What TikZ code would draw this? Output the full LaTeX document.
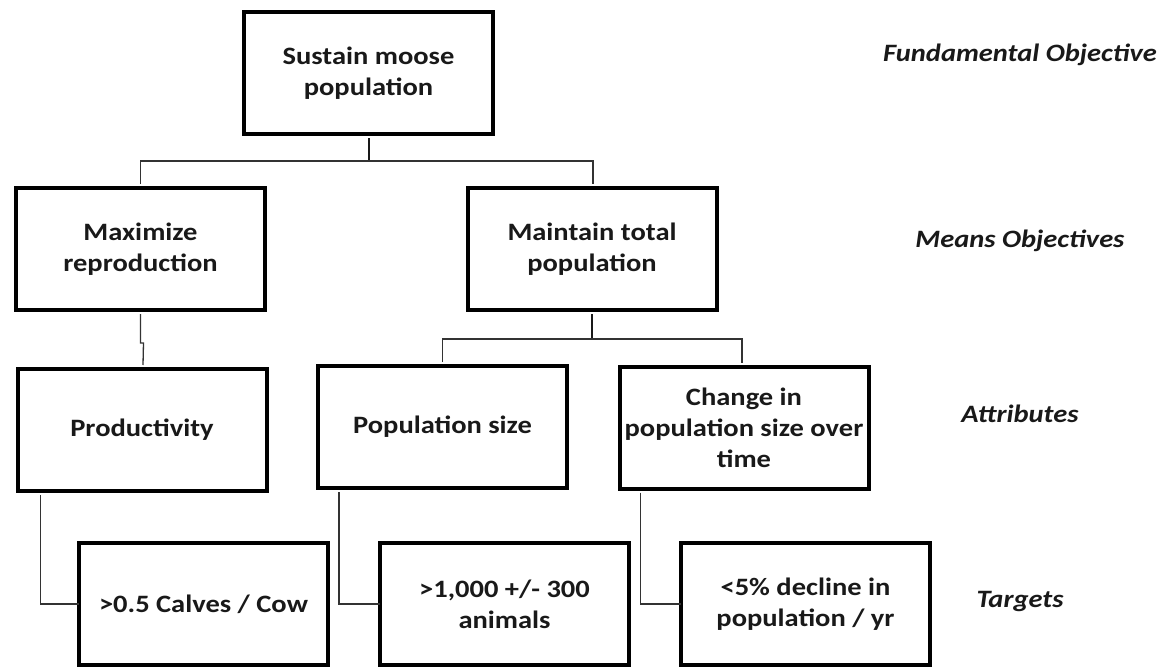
\documentclass[tikz,border=0pt]{standalone}
\usepackage{fontspec}
\setmainfont[FakeStretch=1.14]{Carlito}
\begin{document}
\begin{tikzpicture}[x=1pt,y=-1pt,
  box/.style={draw=black, line width=4pt, fill=white, minimum width=249pt, minimum height=122pt,
    align=center, font=\fontsize{25}{31}\selectfont\bfseries, text=black!90, inner sep=0pt},
  lvl/.style={font=\fontsize{25}{30}\selectfont\bfseries\itshape, text=black!90},
  conn/.style={draw=black!80, line width=1.3pt},
  stem/.style={draw=black!90, line width=2pt}]
\useasboundingbox (0,0) rectangle (1160,667);
\clip (0,0) rectangle (1160,667);
\coordinate (b1) at (368.5,161);
\coordinate (b2) at (592,339);
% boxes
\node[box] (top) at (368.5,73) {Sustain moose\\population};
\node[box] (maxrep) at (140.5,249) {Maximize\\reproduction};
\node[box] (maintain) at (592,249) {Maintain total\\population};
\node[box] (prod) at (142,430) {Productivity};
\node[box] (popsize) at (442.5,427) {Population size};
\node[box] (change) at (744,427.5) {Change in\\population size over\\time};
\node[box] (t1) at (203.5,604) {>0.5 Calves / Cow};
\node[box] (t2) at (504.5,604) {>1,000 +/- 300\\animals};
\node[box] (t3) at (805.5,604) {<5\% decline in\\population / yr};
% level labels
\node[lvl] (l1) at (1020,55) {Fundamental Objective};
\node[lvl] (l2) at (1020,241) {Means Objectives};
\node[lvl] (l3) at (1020,414) {Attributes};
\node[lvl] (l4) at (1020,601) {Targets};
% connectors
\draw[stem] ([yshift=-2pt]top.south) -- (b1);
\draw[conn] ([yshift=2pt]maxrep.north) |- (b1) -| ([yshift=2pt,xshift=1pt]maintain.north);
\draw[conn] ([yshift=-2pt]maxrep.south) -- ++(0,29) -- ++(3,0) -- ([yshift=2pt,xshift=1pt]prod.north);
\draw[stem] ([yshift=-2pt]maintain.south) -- (b2);
\draw[conn] ([yshift=2pt]popsize.north) |- (b2) -| ([yshift=2pt,xshift=-2pt]change.north);
\draw[conn] ([xshift=25pt,yshift=-2pt]prod.south west) |- ([xshift=2pt]t1.west);
\draw[conn] ([xshift=23pt,yshift=-2pt]popsize.south west) |- ([xshift=2pt]t2.west);
\draw[conn] ([xshift=23pt,yshift=-2pt]change.south west) |- ([xshift=2pt]t3.west);
\end{tikzpicture}
\end{document}
